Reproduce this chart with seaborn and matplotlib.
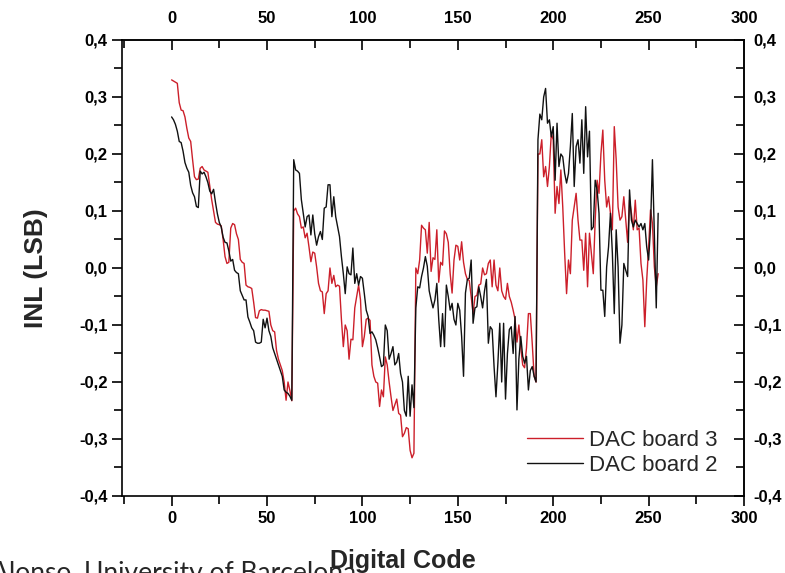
import numpy as np
import pandas as pd
import matplotlib
matplotlib.use("Agg")
import matplotlib.pyplot as plt
import seaborn as sns
from matplotlib.ticker import MultipleLocator, FuncFormatter

# INL per digital code (LSB)
board3 = [
    0.330, 0.328, 0.326, 0.324, 0.290, 0.277, 0.276, 0.265, 0.245, 0.228, 0.222, 0.190, 0.160, 0.155, 0.156, 0.175,
    0.178, 0.172, 0.170, 0.168, 0.144, 0.120, 0.100, 0.080, 0.077, 0.076, 0.074, 0.050, 0.020, 0.008, 0.010, 0.070,
    0.078, 0.076, 0.060, 0.050, 0.015, 0.010, 0.008, -0.030, -0.033, -0.034, -0.036, -0.060, -0.087, -0.088, -0.075, -0.073,
    -0.074, -0.074, -0.075, -0.076, -0.100, -0.110, -0.112, -0.145, -0.160, -0.170, -0.180, -0.200, -0.232, -0.200, -0.215, -0.233,
    0.100, 0.105, 0.095, 0.090, 0.070, 0.072, 0.053, 0.061, 0.037, 0.011, 0.028, 0.026, 0.002, -0.027, -0.040, -0.042,
    -0.080, -0.045, -0.040, 0.000, -0.027, -0.013, -0.033, -0.030, -0.032, -0.090, -0.138, -0.100, -0.110, -0.160, -0.125, -0.126,
    -0.070, -0.050, -0.030, -0.056, -0.138, -0.120, -0.090, -0.088, -0.092, -0.170, -0.190, -0.200, -0.202, -0.243, -0.214, -0.226,
    -0.156, -0.170, -0.200, -0.226, -0.250, -0.240, -0.230, -0.255, -0.258, -0.296, -0.290, -0.280, -0.282, -0.320, -0.333, -0.325,
    0.000, -0.010, 0.014, 0.075, 0.070, 0.067, 0.026, 0.080, -0.006, 0.018, 0.015, 0.067, -0.025, 0.010, 0.005, 0.065,
    0.060, 0.045, -0.010, -0.044, 0.014, 0.040, 0.038, 0.014, 0.046, 0.010, -0.010, -0.020, -0.022, -0.050, -0.080, -0.050,
    -0.048, -0.030, -0.028, 0.000, -0.012, -0.010, 0.008, 0.014, -0.033, 0.014, -0.030, -0.040, 0.000, -0.040, -0.050, -0.055,
    -0.027, -0.050, -0.060, -0.074, -0.090, -0.130, -0.100, -0.140, -0.170, -0.175, -0.140, -0.080, -0.080, -0.132, -0.190, -0.200,
    0.200, 0.200, 0.225, 0.160, 0.178, 0.143, 0.178, 0.236, 0.225, 0.096, 0.143, 0.113, 0.172, 0.107, 0.026, -0.045,
    0.014, -0.010, 0.084, 0.107, 0.131, 0.084, 0.049, 0.049, -0.004, 0.061, -0.033, 0.061, 0.026, -0.010, 0.084, 0.154,
    0.131, 0.200, 0.242, 0.154, 0.107, 0.125, 0.096, 0.067, 0.248, 0.190, 0.107, 0.084, 0.090, 0.125, 0.084, 0.045,
    0.119, 0.096, 0.067, 0.119, 0.067, 0.070, 0.008, -0.021, -0.103, -0.021, 0.037, 0.102, 0.078, 0.002, -0.033, -0.010,
]
board2 = [
    0.265, 0.260, 0.252, 0.240, 0.222, 0.220, 0.205, 0.185, 0.175, 0.168, 0.145, 0.132, 0.125, 0.108, 0.106, 0.170,
    0.165, 0.168, 0.160, 0.150, 0.135, 0.130, 0.138, 0.115, 0.095, 0.080, 0.072, 0.054, 0.045, 0.044, 0.030, 0.012,
    0.015, -0.004, -0.008, -0.010, -0.040, -0.048, -0.056, -0.056, -0.086, -0.095, -0.105, -0.110, -0.130, -0.132, -0.132, -0.130,
    -0.090, -0.105, -0.088, -0.110, -0.120, -0.140, -0.150, -0.160, -0.170, -0.180, -0.190, -0.214, -0.218, -0.220, -0.225, -0.232,
    0.190, 0.172, 0.170, 0.166, 0.120, 0.096, 0.072, 0.090, 0.093, 0.058, 0.093, 0.060, 0.040, 0.055, 0.064, 0.050,
    0.105, 0.107, 0.146, 0.146, 0.090, 0.125, 0.090, 0.072, 0.055, 0.020, -0.010, -0.045, 0.002, -0.010, -0.012, 0.035,
    -0.027, -0.010, -0.030, -0.015, -0.018, -0.045, -0.074, -0.085, -0.115, -0.112, -0.118, -0.126, -0.140, -0.156, -0.173, -0.170,
    -0.100, -0.110, -0.160, -0.150, -0.138, -0.170, -0.165, -0.150, -0.185, -0.200, -0.250, -0.260, -0.190, -0.260, -0.205, -0.245,
    -0.070, -0.033, -0.035, -0.015, 0.000, 0.020, 0.003, -0.040, -0.056, -0.070, -0.056, -0.027, -0.090, -0.138, -0.080, -0.138,
    -0.030, -0.050, -0.074, -0.062, -0.090, -0.100, -0.062, -0.074, -0.120, -0.190, -0.044, -0.020, -0.018, 0.014, -0.097, -0.070,
    -0.068, -0.033, -0.050, -0.070, -0.040, -0.020, -0.132, -0.103, -0.108, -0.173, -0.226, -0.167, -0.097, -0.200, -0.097, -0.230,
    -0.150, -0.108, -0.103, -0.150, -0.085, -0.249, -0.160, -0.120, -0.155, -0.167, -0.155, -0.214, -0.180, -0.173, -0.190, -0.200,
    0.225, 0.270, 0.260, 0.300, 0.315, 0.254, 0.260, 0.230, 0.248, 0.154, 0.254, 0.178, 0.200, 0.195, 0.166, 0.149,
    0.166, 0.213, 0.271, 0.143, 0.213, 0.225, 0.184, 0.260, 0.166, 0.283, 0.195, 0.240, 0.067, 0.072, 0.154, 0.137,
    0.096, -0.039, -0.039, -0.085, 0.002, 0.037, 0.096, 0.026, -0.080, 0.067, 0.002, -0.132, -0.100, 0.008, -0.004, -0.015,
    0.137, 0.084, 0.072, 0.084, 0.078, 0.072, 0.078, 0.067, 0.078, 0.037, 0.014, 0.072, 0.190, 0.060, -0.070, 0.096,
]
series_names = ["DAC board 3", "DAC board 2"]
series_colors = ["#cc1f2a", "#111111"]

codes = np.arange(len(board3))
df = pd.DataFrame({
    "code": np.concatenate([codes, codes]),
    "inl": board3 + board2,
    "board": [series_names[0]] * len(board3) + [series_names[1]] * len(board2),
})

sns.set_style("ticks")
plt.rcParams["font.family"] = ["Liberation Sans", "DejaVu Sans"]

fig = plt.figure(figsize=(7.85, 5.73), dpi=100)
ax = fig.add_axes([0.1554, 0.1344, 0.7924, 0.7958])

sns.lineplot(data=df, x="code", y="inl", hue="board", hue_order=series_names,
             palette=dict(zip(series_names, series_colors)), linewidth=1.0,
             estimator=None, sort=False, ax=ax)

ax.set_xlim(-26, 300)
ax.set_ylim(-0.4, 0.4)
comma = FuncFormatter(lambda v, p: f"{round(v, 1):.1f}".replace(".", ",").replace("-0,0", "0,0"))
ax.xaxis.set_major_locator(MultipleLocator(50))
ax.xaxis.set_minor_locator(MultipleLocator(25))
ax.yaxis.set_major_locator(MultipleLocator(0.1))
ax.yaxis.set_minor_locator(MultipleLocator(0.05))
ax.yaxis.set_major_formatter(comma)
ax.tick_params(which="both", direction="out", width=1.2, labelsize=12, colors="black")
ax.tick_params(which="major", length=7)
ax.tick_params(which="minor", length=6)
for lab in ax.get_xticklabels() + ax.get_yticklabels():
    lab.set_fontweight("bold")
for sp in ax.spines.values():
    sp.set_linewidth(1.2)
    sp.set_color("black")
    sp.set_visible(True)

# top and right axes (ticks pointing inward, like Origin)
top = ax.secondary_xaxis("top")
top.xaxis.set_major_locator(MultipleLocator(50))
top.xaxis.set_minor_locator(MultipleLocator(25))
right = ax.secondary_yaxis("right")
right.yaxis.set_major_locator(MultipleLocator(0.1))
right.yaxis.set_minor_locator(MultipleLocator(0.05))
right.yaxis.set_major_formatter(comma)
for sec in (top, right):
    sec.tick_params(which="both", direction="in", width=1.2, labelsize=12, colors="black")
    sec.tick_params(which="minor", length=6)
    for sp in sec.spines.values():
        sp.set_linewidth(1.2)
top.tick_params(which="major", length=7, pad=10)
right.tick_params(which="major", length=7, pad=7)
for lab in top.get_xticklabels() + right.get_yticklabels():
    lab.set_fontweight("bold")

ax.set_xlabel("Digital Code", fontsize=18, fontweight="bold")
ax.xaxis.set_label_coords(0.452, -0.158)
ax.xaxis.label.set_va("baseline")
ax.set_ylabel("INL (LSB)", fontsize=19, fontweight="bold", labelpad=22)

leg = ax.legend(loc="lower right", bbox_to_anchor=(0.99, 0.0), frameon=False,
                handlelength=2.5, handletextpad=0.3, labelspacing=0.2,
                prop={"family": ["Liberation Sans", "DejaVu Sans"], "size": 16})

fig.text(-0.012, -0.014, "Alonso, University of Barcelona", fontsize=19,
         family=["Lato", "DejaVu Sans"], ha="left", va="baseline", zorder=-1)

fig.savefig("out.png", dpi=100)
